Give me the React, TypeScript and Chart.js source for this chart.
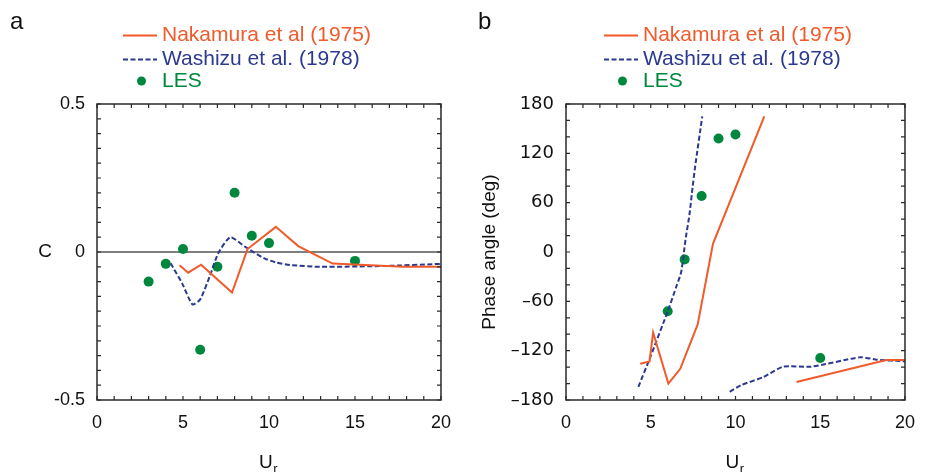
import React, { useEffect, useRef } from "react";
import { Chart, registerables } from "chart.js";

Chart.register(...registerables);

const FONT = "'Liberation Sans', Arial, Helvetica, sans-serif";
const WIDE_FONT = "'DejaVu Sans', 'Liberation Sans', sans-serif";
const RED = "#F15A2B";
const BLUE = "#2B3990";
const GREEN = "#00873E";

// Panel a: C vs Ur
const lesUr = [3, 4, 5, 6, 7, 8, 9, 10, 15];
const lesC = [-0.1, -0.04, 0.01, -0.33, -0.05, 0.2, 0.055, 0.03, -0.03];
const nakUr = [4.8, 5.3, 6.05, 7.85, 8.75, 10.4, 11.7, 13.7, 17.8, 20];
const nakC = [-0.045, -0.07, -0.043, -0.137, 0.01, 0.085, 0.02, -0.039, -0.05, -0.05];
const washUr = [4.28, 4.95, 5.55, 6.0, 6.55, 7.05, 7.75, 8.6, 9.7, 10.4, 11.25, 12.97, 16.8, 20];
const washC = [-0.038, -0.106, -0.177, -0.16, -0.083, -0.004, 0.05, 0.018, -0.021, -0.035, -0.044, -0.05, -0.047, -0.04];

// Panel b: phase angle vs Ur
const lesPhaseUr = [6, 7, 8, 9, 10, 15];
const lesPhase = [-72, -9, 68, 138, 143, -129];
const nakPhaseUrA = [4.38, 4.93, 5.14, 6.04, 6.74, 7.77, 8.67, 11.7];
const nakPhaseA = [-136, -133, -98, -160, -142, -88, 10, 165];
const nakPhaseUrB = [13.6, 18.9, 20];
const nakPhaseB = [-158, -131.5, -131.5];
const washPhaseUrA = [4.27, 4.99, 6.04, 6.51, 6.8, 7.05, 7.28, 7.47, 7.62, 8.04];
const washPhaseA = [-164, -127, -70, -42, -24, 15, 45, 79, 104, 165];
const washPhaseUrB = [9.66, 10.32, 11.66, 12.8, 14.47, 17.37, 18.33, 20];
const washPhaseB = [-170, -162, -152, -139.5, -139.5, -128, -131, -133];

const legendLabels = ["Nakamura et al (1975)", "Washizu et al. (1978)", "LES"];

const pts = (xs: number[], ys: number[]) => xs.map((x, i) => ({ x, y: ys[i] }));

type PanelCfg = {
  letter: string;
  yMin: number;
  yMax: number;
  yStep: number;
  yMinor: number;
  yTitle: string;
  yTitleRotate: boolean;
  yTitleX: number;
  yAxisWidth: number;
  yTickFont: string;
  yTickFmt: (v: number) => string;
  rightPad: number;
  legendLineX: number;
  zeroLine: boolean;
  datasets: any[];
};

function makeChart(canvas: HTMLCanvasElement, cfg: PanelCfg) {
  const decor = {
    id: "decor",
    beforeDatasetsDraw(chart: any) {
      const { ctx, chartArea } = chart;
      if (cfg.zeroLine) {
        const y0 = chart.scales.y.getPixelForValue(0);
        ctx.save();
        ctx.strokeStyle = "#555";
        ctx.lineWidth = 1.5;
        ctx.beginPath();
        ctx.moveTo(chartArea.left, y0);
        ctx.lineTo(chartArea.right, y0);
        ctx.stroke();
        ctx.restore();
      }
    },
    afterDraw(chart: any) {
      const { ctx, chartArea } = chart;
      const xs = chart.scales.x;
      const ys = chart.scales.y;
      const { left, right, top, bottom } = chartArea;
      ctx.save();
      ctx.strokeStyle = "#2a2a2a";
      ctx.lineWidth = 1.5;
      ctx.strokeRect(left, top, right - left, bottom - top);
      ctx.lineWidth = 1.2;
      ctx.beginPath();
      const tl = 4;
      for (let v = 0; v <= 20 + 1e-9; v += 1) {
        const px = xs.getPixelForValue(v);
        ctx.moveTo(px, bottom);
        ctx.lineTo(px, bottom - tl);
        ctx.moveTo(px, top);
        ctx.lineTo(px, top + tl);
      }
      const n = Math.round((cfg.yMax - cfg.yMin) / cfg.yMinor);
      for (let i = 0; i <= n; i++) {
        const v = cfg.yMin + i * cfg.yMinor;
        const py = ys.getPixelForValue(v);
        ctx.moveTo(left, py);
        ctx.lineTo(left + tl, py);
        ctx.moveTo(right, py);
        ctx.lineTo(right - tl, py);
      }
      ctx.stroke();

      // panel letter
      ctx.fillStyle = "#111";
      ctx.font = `24px ${FONT}`;
      ctx.textAlign = "left";
      ctx.textBaseline = "alphabetic";
      ctx.fillText(cfg.letter, cfg.letter === "a" ? 10 : 15, 29);

      // legend
      const lx = cfg.legendLineX;
      ctx.font = `21px ${FONT}`;
      ctx.lineWidth = 2;
      ctx.strokeStyle = RED;
      ctx.setLineDash([]);
      ctx.beginPath();
      ctx.moveTo(lx, 35.5);
      ctx.lineTo(lx + 34, 35.5);
      ctx.stroke();
      ctx.fillStyle = RED;
      ctx.fillText(legendLabels[0], lx + 39, 41);
      ctx.strokeStyle = BLUE;
      ctx.setLineDash([5, 2.5]);
      ctx.beginPath();
      ctx.moveTo(lx, 59.5);
      ctx.lineTo(lx + 34, 59.5);
      ctx.stroke();
      ctx.setLineDash([]);
      ctx.fillStyle = BLUE;
      ctx.fillText(legendLabels[1], lx + 39, 64.5);
      ctx.fillStyle = GREEN;
      ctx.beginPath();
      ctx.arc(lx + 18.5, 81, 4.5, 0, Math.PI * 2);
      ctx.fill();
      ctx.fillText(legendLabels[2], lx + 39, 86.5);

      // axis titles
      ctx.fillStyle = "#111";
      ctx.font = `19px ${FONT}`;
      const cy = (top + bottom) / 2;
      if (cfg.yTitleRotate) {
        ctx.save();
        ctx.translate(cfg.yTitleX, cy);
        ctx.rotate(-Math.PI / 2);
        ctx.textAlign = "center";
        ctx.textBaseline = "middle";
        ctx.fillText(cfg.yTitle, 0, 0);
        ctx.restore();
      } else {
        ctx.textAlign = "center";
        ctx.textBaseline = "middle";
        ctx.fillText(cfg.yTitle, cfg.yTitleX, cy);
      }
      const cx = (left + right) / 2;
      ctx.textAlign = "left";
      ctx.textBaseline = "alphabetic";
      ctx.font = `19px ${FONT}`;
      const uw = ctx.measureText("U").width;
      ctx.fillText("U", cx - 10, 468);
      ctx.font = `13px ${FONT}`;
      ctx.fillText("r", cx - 10 + uw + 0.5, 473);
      ctx.restore();
    },
  };

  return new Chart(canvas, {
    type: "scatter",
    data: { datasets: cfg.datasets },
    options: {
      responsive: false,
      animation: false,
      layout: { padding: { top: 104, right: cfg.rightPad, left: 0, bottom: 0 } },
      plugins: { legend: { display: false }, tooltip: { enabled: false } },
      scales: {
        x: {
          type: "linear",
          min: 0,
          max: 20,
          grid: { display: false, drawTicks: false },
          border: { display: false },
          ticks: {
            stepSize: 5,
            padding: 12,
            color: "#111",
            font: { family: FONT, size: 18 },
            maxRotation: 0,
          },
          afterFit: (s: any) => {
            s.height = 72;
          },
        },
        y: {
          type: "linear",
          min: cfg.yMin,
          max: cfg.yMax,
          grid: { display: false, drawTicks: false },
          border: { display: false },
          ticks: {
            stepSize: cfg.yStep,
            padding: 12,
            color: "#111",
            font: { family: cfg.yTickFont, size: 18 },
            callback: (v: any) => cfg.yTickFmt(Number(v)),
          },
          afterFit: (s: any) => {
            s.width = cfg.yAxisWidth;
          },
        },
      },
    },
    plugins: [decor],
  } as any);
}

const lineDs = (data: any[], color: string, dashed: boolean) => ({
  type: "line",
  data,
  borderColor: color,
  borderWidth: 2,
  borderDash: dashed ? [5, 2.5] : [],
  pointRadius: 0,
  showLine: true,
  fill: false,
  tension: dashed ? 0.2 : 0,
});

const dotDs = (data: any[]) => ({
  type: "scatter",
  data,
  backgroundColor: GREEN,
  borderColor: GREEN,
  pointRadius: 5,
  pointBorderWidth: 0,
});

export default function App() {
  const refA = useRef<HTMLCanvasElement>(null);
  const refB = useRef<HTMLCanvasElement>(null);

  useEffect(() => {
    const a = makeChart(refA.current!, {
      letter: "a",
      yMin: -0.5,
      yMax: 0.5,
      yStep: 0.5,
      yMinor: 0.05,
      yTitle: "C",
      yTitleRotate: false,
      yTitleX: 45,
      yAxisWidth: 97,
      yTickFont: FONT,
      yTickFmt: (v) => String(v),
      rightPad: 17,
      legendLineX: 123,
      zeroLine: true,
      datasets: [
        lineDs(pts(nakUr, nakC), RED, false),
        lineDs(pts(washUr, washC), BLUE, true),
        dotDs(pts(lesUr, lesC)),
      ],
    });
    const b = makeChart(refB.current!, {
      letter: "b",
      yMin: -180,
      yMax: 180,
      yStep: 60,
      yMinor: 20,
      yTitle: "Phase angle (deg)",
      yTitleRotate: true,
      yTitleX: 27,
      yAxisWidth: 103,
      yTickFont: WIDE_FONT,
      yTickFmt: (v) => (v < 0 ? "\u2013" + Math.abs(v) : String(v)),
      rightPad: 11,
      legendLineX: 141,
      zeroLine: false,
      datasets: [
        lineDs(pts(nakPhaseUrA, nakPhaseA), RED, false),
        lineDs(pts(nakPhaseUrB, nakPhaseB), RED, false),
        lineDs(pts(washPhaseUrA, washPhaseA), BLUE, true),
        lineDs(pts(washPhaseUrB, washPhaseB), BLUE, true),
        dotDs(pts(lesPhaseUr, lesPhase)),
      ],
    });
    return () => {
      a.destroy();
      b.destroy();
    };
  }, []);

  return (
    <div style={{ position: "fixed", left: 0, top: 0, width: 927, height: 472, background: "#fff" }}>
      <canvas ref={refA} width={463} height={472} style={{ position: "absolute", left: 0, top: 0 }} />
      <canvas ref={refB} width={464} height={472} style={{ position: "absolute", left: 463, top: 0 }} />
    </div>
  );
}
